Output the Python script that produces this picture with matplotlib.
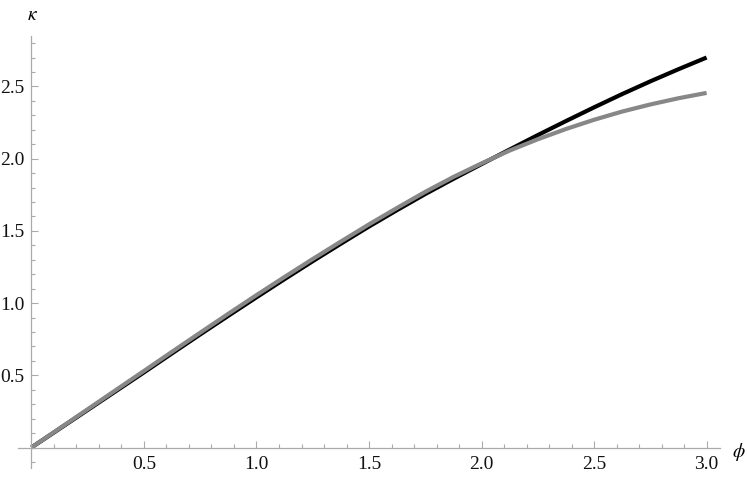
import matplotlib
matplotlib.use("Agg")
import matplotlib.pyplot as plt
from matplotlib.ticker import MultipleLocator, FixedLocator

plt.rcParams['font.family'] = ['Liberation Serif', 'DejaVu Serif']
plt.rcParams['mathtext.fontset'] = 'stix'

# values
phi = [0.0, 0.125, 0.25, 0.375, 0.5, 0.625, 0.75, 0.875, 1.0, 1.125, 1.25, 1.375, 1.5,
       1.625, 1.75, 1.875, 2.0, 2.125, 2.25, 2.375, 2.5, 2.625, 2.75, 2.875, 3.0]
kappa_black = [0.0, 0.13, 0.26, 0.39, 0.52, 0.652, 0.783, 0.912, 1.04, 1.166, 1.29, 1.411, 1.53,
               1.644, 1.755, 1.86, 1.962, 2.063, 2.163, 2.26, 2.355, 2.447, 2.535, 2.619, 2.70]
kappa_gray = [0.0, 0.1325, 0.265, 0.3975, 0.53, 0.663, 0.795, 0.926, 1.055, 1.181, 1.305, 1.426, 1.545,
              1.659, 1.77, 1.873, 1.967, 2.056, 2.134, 2.205, 2.269, 2.326, 2.375, 2.418, 2.455]

x_ticks = [0.5, 1.0, 1.5, 2.0, 2.5, 3.0]
y_ticks = [0.5, 1.0, 1.5, 2.0, 2.5]

fig = plt.figure(figsize=(7.47, 4.78), dpi=100)
ax = fig.add_axes([0.024, 0.0215, 0.940, 0.9035])

ax.plot(phi, kappa_black, color='black', linewidth=3.0, solid_capstyle='butt')
ax.plot(phi, kappa_gray, color='#878787', linewidth=3.0, solid_capstyle='butt')

ax.set_xlim(-0.06, 3.06)
ax.set_ylim(-0.14, 2.85)

# Mathematica style axes through the origin
for side in ['top', 'right']:
    ax.spines[side].set_visible(False)
ax.spines['left'].set_position(('data', 0))
ax.spines['bottom'].set_position(('data', 0))
for side in ['left', 'bottom']:
    ax.spines[side].set_color('#aaaaaa')
    ax.spines[side].set_linewidth(0.9)

ax.xaxis.set_major_locator(FixedLocator(x_ticks))
ax.yaxis.set_major_locator(FixedLocator(y_ticks))
ax.xaxis.set_minor_locator(MultipleLocator(0.1))
ax.yaxis.set_minor_locator(MultipleLocator(0.1))
ax.set_xticklabels(['%.1f' % v for v in x_ticks])
ax.set_yticklabels(['%.1f' % v for v in y_ticks])

ax.tick_params(which='both', direction='in', color='#aaaaaa', width=0.8,
               labelsize=14, labelcolor='#111111')
ax.tick_params(which='major', length=5)
ax.tick_params(which='minor', length=3)
ax.tick_params(axis='x', pad=6)
ax.tick_params(axis='y', pad=5)
for lab in ax.get_xticklabels() + ax.get_yticklabels():
    lab.set_fontfamily('Liberation Serif')

fig.text(33 / 747, 1 - 15 / 478, r'$\kappa$', fontsize=14, ha='center', va='center')
fig.text(739 / 747, 1 - 452 / 478, r'$\phi$', fontsize=14, ha='center', va='center')

fig.savefig('out.png', dpi=100)
